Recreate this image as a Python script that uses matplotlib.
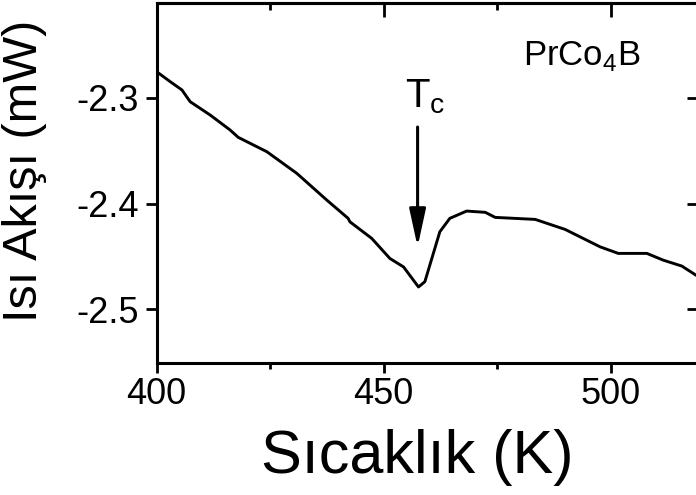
import matplotlib
matplotlib.use("Agg")
import matplotlib.pyplot as plt
from matplotlib.ticker import MultipleLocator

plt.rcParams['font.family'] = ['Liberation Sans', 'DejaVu Sans']

# Data (temperature in K, heat flow in mW)
temperature = [400.0, 403.0, 405.6, 407.4, 411.8, 416.2, 418.0, 424.3, 430.9, 437.5,
               442.2, 442.6, 447.4, 451.4, 454.4, 457.7, 459.1, 462.4, 464.6, 468.3,
               472.4, 474.6, 483.4, 490.0, 497.7, 501.7, 508.0, 511.6, 515.7, 518.8, 520.0]
heat_flow = [-2.275, -2.2845, -2.2924, -2.3035, -2.3161, -2.3303, -2.3373, -2.3509, -2.3714, -2.3967,
             -2.414, -2.4173, -2.433, -2.452, -2.460, -2.479, -2.474, -2.4267, -2.414, -2.4071,
             -2.4083, -2.4131, -2.415, -2.4245, -2.441, -2.4472, -2.4472, -2.4536, -2.4592, -2.4678, -2.471]

x_ticks = [400, 450, 500]
y_ticks = [-2.3, -2.4, -2.5]
x_label = "Sıcaklık (K)"
y_label = "Isı Akışı (mW)"
sample_label = r"PrCo$_\mathregular{4}$B"
tc_label = r"T$_\mathregular{c}$"
tc_temp = 457.5
arrow_tail = -2.3275
arrow_tip = -2.441

fig = plt.figure(figsize=(6.96, 4.95), dpi=100)
ax = fig.add_axes([0.2249, 0.2667, 0.7828, 0.7273])

ax.plot(temperature, heat_flow, color='black', lw=2.1)

ax.set_xlim(400, 520)
ax.set_ylim(-2.551, -2.21)
ax.set_xticks(x_ticks)
ax.set_yticks(y_ticks)
ax.set_yticklabels([f"{v:.1f}" for v in y_ticks])
ax.xaxis.set_minor_locator(MultipleLocator(25))

for s in ax.spines.values():
    s.set_linewidth(2.2)

ax.tick_params(axis='x', which='major', direction='out', length=7, width=2.0,
               labelsize=26, pad=3, top=False)
ax.tick_params(axis='x', which='minor', direction='out', length=4, width=2.0, top=False)
ax.tick_params(axis='y', which='major', direction='out', length=8, width=2.0,
               labelsize=26, pad=5, right=False)

# inward ticks on top and right
sec_x = ax.secondary_xaxis('top')
sec_x.set_xticks(x_ticks)
sec_x.xaxis.set_minor_locator(MultipleLocator(25))
sec_x.tick_params(which='major', direction='in', length=10, width=2.0, labeltop=False)
sec_x.tick_params(which='minor', direction='in', length=5, width=2.0)
sec_x.spines['top'].set_linewidth(2.2)
sec_y = ax.secondary_yaxis('right')
sec_y.set_yticks(y_ticks)
sec_y.tick_params(which='major', direction='in', length=10, width=2.0, labelright=False)
sec_y.spines['right'].set_linewidth(2.2)

fig.text(0.599, 0.044, x_label, fontsize=44, ha='center', va='baseline')
fig.text(0.003, 0.655, y_label, rotation=90, fontsize=35, ha='left', va='center')

ax.text(480.7, -2.2687, sample_label, fontsize=25, ha='left', va='baseline')
ax.text(454.7, -2.3085, tc_label, fontsize=29, ha='left', va='baseline')

ax.annotate('', xy=(tc_temp, arrow_tip), xytext=(tc_temp, arrow_tail),
            arrowprops=dict(arrowstyle='-|>,head_length=1.15,head_width=0.25',
                            mutation_scale=20, lw=2.2, color='black',
                            shrinkA=0, shrinkB=0))

fig.savefig('out.png', dpi=100)
